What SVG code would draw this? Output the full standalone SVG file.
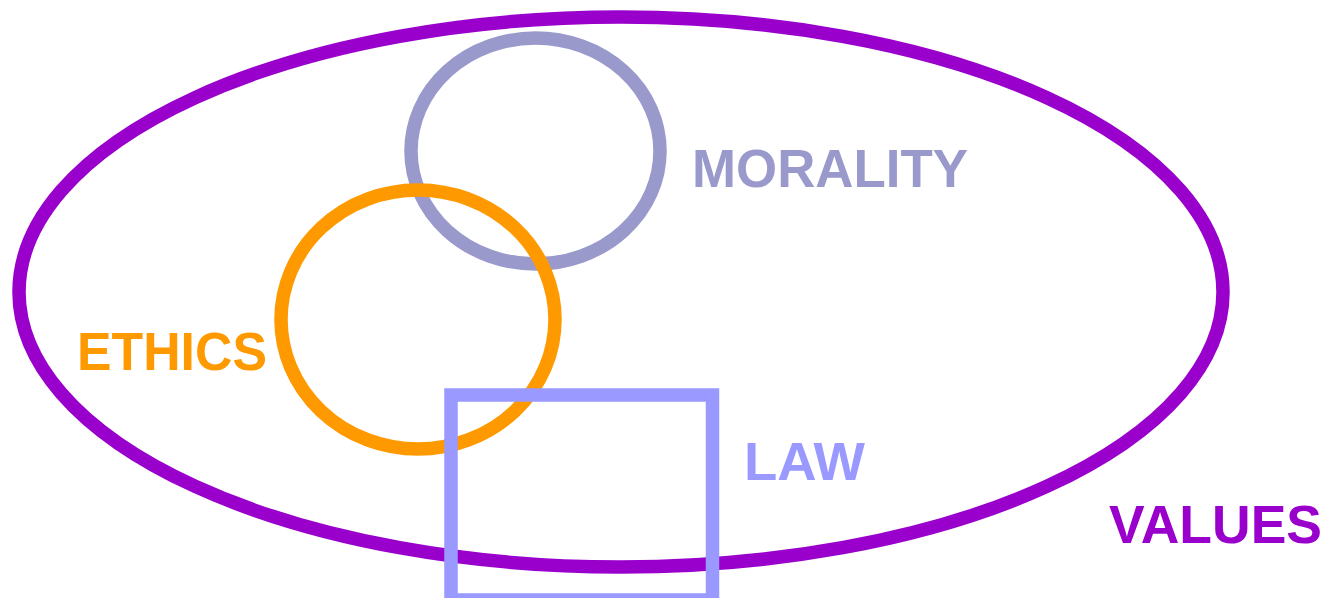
<svg xmlns="http://www.w3.org/2000/svg" width="1330" height="598" viewBox="0 0 1330 598">
<style>
.s{fill:none;stroke-width:13.5}
.t{font-family:"Liberation Sans",Arial,sans-serif;font-weight:bold;font-size:54px}
</style>
<rect width="1330" height="598" fill="#fff"/>
<g id="values">
<ellipse class="s" cx="621" cy="292" rx="602" ry="275" stroke="#9900CC"/>
<text class="t" x="1109" y="543" fill="#9900CC" textLength="213" lengthAdjust="spacingAndGlyphs">VALUES</text>
</g>
<g id="morality">
<ellipse class="s" cx="535.5" cy="151" rx="124.5" ry="113" stroke="#9999CC"/>
<text class="t" x="692" y="187" fill="#9999CC" textLength="276" lengthAdjust="spacingAndGlyphs">MORALITY</text>
</g>
<g id="ethics">
<ellipse class="s" cx="418" cy="319.5" rx="137" ry="129.5" stroke="#FF9900"/>
<text class="t" x="77" y="370" fill="#FF9900" textLength="190" lengthAdjust="spacingAndGlyphs">ETHICS</text>
</g>
<g id="law">
<rect class="s" x="451" y="395" width="261.5" height="205" stroke="#9999FF"/>
<text class="t" x="744" y="480" fill="#9999FF" textLength="121" lengthAdjust="spacingAndGlyphs">LAW</text>
</g>
<g id="connectors"></g>
</svg>
